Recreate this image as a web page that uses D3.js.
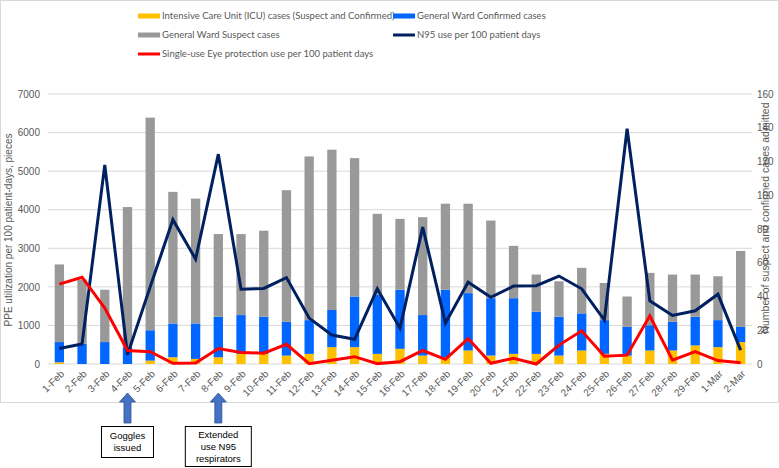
<!DOCTYPE html>
<html><head><meta charset="utf-8">
<script src="https://cdn.jsdelivr.net/npm/d3@7"></script>
<style>
html,body{margin:0;padding:0;background:#fff;}
svg{display:block;font-family:"Liberation Sans",Arial,sans-serif;}
</style></head>
<body><svg id="c" width="779" height="468"></svg>
<script>
const dates = ["1-Feb","2-Feb","3-Feb","4-Feb","5-Feb","6-Feb","7-Feb","8-Feb","9-Feb","10-Feb","11-Feb","12-Feb","13-Feb","14-Feb","15-Feb","16-Feb","17-Feb","18-Feb","19-Feb","20-Feb","21-Feb","22-Feb","23-Feb","24-Feb","25-Feb","26-Feb","27-Feb","28-Feb","29-Feb","1-Mar","2-Mar"];
const icuCases = [1,0,0,0,2,4,3,4,6,6,5,6,10,10,6,9,5,4,8,5,6,6,5,8,6,5,8,8,11,10,13];
const wardConfirmed = [12,12,13,10,18,20,21,24,23,22,20,20,22,30,35,35,24,40,34,34,33,25,23,22,20,17,15,17,17,16,9];
const wardSuspect = [46,38,31,83,126,78,74,49,48,51,78,97,95,82,48,42,58,51,53,46,31,22,21,27,22,18,31,28,25,26,45];
const n95Use = [400,520,5160,240,2000,3740,2720,5440,1940,1960,2240,1190,750,640,1950,930,3550,1060,2120,1730,2020,2030,2280,1950,1140,6100,1640,1260,1380,1810,360];
const eyeUse = [2070,2250,1450,350,320,20,25,400,300,280,510,10,100,190,10,60,350,120,660,20,150,0,490,860,200,230,1250,100,320,90,35];
const leftTicks = [0,1000,2000,3000,4000,5000,6000,7000];
const rightTicks = [0,20,40,60,80,100,120,140,160];
const legendItems = [
  {label:"Intensive Care Unit (ICU) cases (Suspect and Confirmed)", color:"#FFC000", type:"bar"},
  {label:"General Ward Confirmed cases", color:"#0066FF", type:"bar"},
  {label:"General Ward Suspect cases", color:"#999999", type:"bar"},
  {label:"N95 use per 100 patient days", color:"#002060", type:"line"},
  {label:"Single-use Eye protection use per 100 patient days", color:"#FF0000", type:"line"}
];
const annotations = [
  {date:"4-Feb", lines:["Goggles","issued"]},
  {date:"8-Feb", lines:["Extended","use N95","respirators"]}
];

const svg = d3.select("#c");
const L = 48, R = 752, T = 94, B = 364;
const tickColor = "#595959";

svg.append("rect").attr("x",0.5).attr("y",0.5).attr("width",778).attr("height",402)
  .attr("fill","#fff").attr("stroke","#D9D9D9");

const x = d3.scaleBand().domain(dates).range([L,R]).paddingInner(0.59).paddingOuter(0.295);
const yL = d3.scaleLinear().domain([0,7000]).range([B,T]);
const yR = d3.scaleLinear().domain([0,160]).range([B,T]);

// gridlines
svg.append("g").selectAll("line").data(leftTicks).join("line")
  .attr("x1",L).attr("x2",R).attr("y1",d=>yL(d)).attr("y2",d=>yL(d))
  .attr("stroke","#D9D9D9").attr("stroke-width",1);

// left axis
const axL = svg.append("g").attr("transform",`translate(${L-6},0)`)
  .call(d3.axisLeft(yL).tickValues(leftTicks).tickSize(0).tickPadding(2).tickFormat(d3.format("d")));
axL.select(".domain").remove();
axL.selectAll("text").attr("fill",tickColor).style("font-size","10px").style("font-family","Liberation Sans, Arial, sans-serif");

// right axis
const axR = svg.append("g").attr("transform",`translate(${R+3},0)`)
  .call(d3.axisRight(yR).tickValues(rightTicks).tickSize(0).tickPadding(2).tickFormat(d3.format("d")));
axR.select(".domain").remove();
axR.selectAll("text").attr("fill",tickColor).style("font-size","10px").style("font-family","Liberation Sans, Arial, sans-serif");

// stacked bars
const rows = dates.map((d,i)=>({date:d, icu:icuCases[i], conf:wardConfirmed[i], susp:wardSuspect[i]}));
const stack = d3.stack().keys(["icu","conf","susp"])(rows);
const barColors = {icu:"#FFC000", conf:"#0066FF", susp:"#999999"};
svg.append("g").selectAll("g").data(stack).join("g").attr("fill",s=>barColors[s.key])
  .selectAll("rect").data(s=>s).join("rect")
  .attr("x",d=>x(d.data.date)).attr("width",x.bandwidth())
  .attr("y",d=>yR(d[1])).attr("height",d=>yR(d[0])-yR(d[1]));

// lines
const cx = d=>x(d)+x.bandwidth()/2;
const lineGen = arr => d3.line().x((v,i)=>cx(dates[i])).y(v=>yL(v))(arr);
svg.append("path").attr("d",lineGen(n95Use)).attr("fill","none").attr("stroke","#002060").attr("stroke-width",3).attr("stroke-linejoin","miter");
svg.append("path").attr("d",lineGen(eyeUse)).attr("fill","none").attr("stroke","#FF0000").attr("stroke-width",3).attr("stroke-linejoin","miter");

// x labels
svg.append("g").selectAll("text").data(dates).join("text")
  .attr("transform",d=>`translate(${cx(d)+3},${B+8}) rotate(-45)`)
  .attr("text-anchor","end").attr("dy","0.35em")
  .attr("fill",tickColor).style("font-size","10px").text(d=>d);

// axis titles
svg.append("text").attr("transform",`translate(12,${(T+B)/2+1}) rotate(-90)`)
  .attr("text-anchor","middle").attr("fill",tickColor).style("font-size","10px")
  .text("PPE utilization per 100 patient-days, pieces");
svg.append("text").attr("transform",`translate(769,218) rotate(-90)`)
  .attr("text-anchor","middle").attr("fill",tickColor).style("font-size","10.5px")
  .text("Number of suspect and confirmed cases admitted");

// legend
const legPos = [[138,16],[393,16],[138,35],[393,35],[138,54]];
const lg = svg.append("g");
legendItems.forEach((it,i)=>{
  const [lx,ly] = legPos[i];
  if(it.type==="bar") lg.append("rect").attr("x",lx).attr("y",ly-2.5).attr("width",22).attr("height",5).attr("fill",it.color);
  else lg.append("line").attr("x1",lx).attr("x2",lx+22).attr("y1",ly).attr("y2",ly).attr("stroke",it.color).attr("stroke-width",3);
  lg.append("text").attr("x",lx+24).attr("y",ly).attr("dy","0.35em").attr("fill",tickColor)
    .style("font-size","9.5px").style("font-family","Lato, 'Liberation Sans', sans-serif").text(it.label);
});

// annotations
annotations.forEach(a=>{
  const ax = cx(a.date);
  const g = svg.append("g");
  g.append("path").attr("d",`M${ax},393 L${ax+8},402 L${ax+3.5},402 L${ax+3.5},423 L${ax-3.5},423 L${ax-3.5},402 L${ax-8},402 Z`)
    .attr("fill","#4472C4").attr("stroke","#2F528F").attr("stroke-width",0.8);
  const h = a.lines.length===2 ? 31 : 40;
  const w = a.lines.length===2 ? 52 : 66;
  const by = 426.5;
  g.append("rect").attr("x",ax-w/2).attr("y",by).attr("width",w).attr("height",h)
    .attr("fill","#fff").attr("stroke","#000").attr("stroke-width",1);
  const lh = 11.8;
  const y0 = by + h/2 - (a.lines.length-1)*lh/2;
  a.lines.forEach((t,j)=>{
    g.append("text").attr("x",ax).attr("y",y0+j*lh).attr("dy","0.35em").attr("text-anchor","middle")
      .attr("fill","#000").style("font-size","9.5px").style("font-family","Liberation Sans, Arial, sans-serif").text(t);
  });
});
</script></body></html>
